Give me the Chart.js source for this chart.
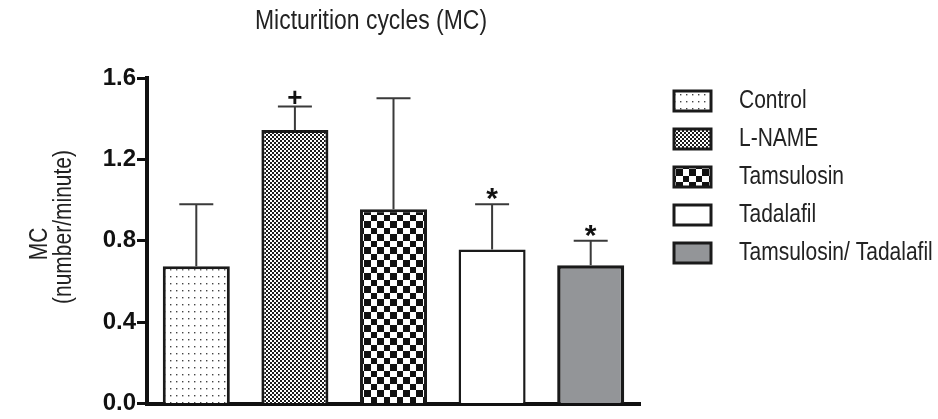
<!DOCTYPE html>
<html>
<head>
<meta charset="utf-8">
<script src="https://cdn.jsdelivr.net/npm/chart.js@4.4.0/dist/chart.umd.min.js"></script>
<style>
  html, body { margin: 0; background: #fff; }
  #contenedor { width: 938px; height: 419px; }
</style>
</head>
<body>
<div id="contenedor"><canvas id="grafico"></canvas></div>
<script>
// Datos
const grupos = ["Control", "L-NAME", "Tamsulosin", "Tadalafil", "Tamsulosin/ Tadalafil"];
const medias = [0.675, 1.345, 0.955, 0.757, 0.68];
const errores = [0.305, 0.115, 0.545, 0.223, 0.12];
const marcas = ["", "+", "", "*", "*"];
const ticksY = [0, 0.4, 0.8, 1.2, 1.6];

const fuente = "'Liberation Sans', Arial, sans-serif";
const canvas = document.getElementById("grafico");
const ctxMain = canvas.getContext("2d");

// Patrones de relleno
function patron(tipo) {
  const c = document.createElement("canvas");
  const g = c.getContext("2d");
  if (tipo === "puntos") {
    c.width = 6; c.height = 7;
    g.fillStyle = "#fff"; g.fillRect(0, 0, 6, 7);
    g.fillStyle = "#444"; g.fillRect(2, 3, 1.4, 1.4);
  } else if (tipo === "fino") {
    c.width = 4; c.height = 4;
    g.fillStyle = "#fff"; g.fillRect(0, 0, 4, 4);
    g.fillStyle = "#1c1c1c"; g.fillRect(0, 0, 2, 2); g.fillRect(2, 2, 2, 2);
  } else if (tipo === "grueso") {
    c.width = 13; c.height = 13;
    g.fillStyle = "#fff"; g.fillRect(0, 0, 13, 13);
    g.fillStyle = "#111"; g.fillRect(0, 0, 7, 7); g.fillRect(7, 7, 6, 6);
  }
  return ctxMain.createPattern(c, "repeat");
}

const rellenos = [patron("puntos"), patron("fino"), patron("grueso"), "#ffffff", "#939598"];
const bordes = [3, 3, 3, 2.5, 3.5];

// texto estrecho (la fuente condensada no existe, se comprime en x)
function texto(c, t, x, y, size, align, escala) {
  c.save();
  c.translate(x, y);
  c.scale(escala, 1);
  c.font = size + "px " + fuente;
  c.textAlign = align;
  c.textBaseline = "middle";
  c.fillText(t, 0, 0);
  c.restore();
}

// Barras de error y marcas de significancia
const pluginErrores = {
  id: "errores",
  afterDatasetsDraw(chart) {
    const c = chart.ctx;
    const y = chart.scales.y;
    const meta = chart.getDatasetMeta(0);
    meta.data.forEach((barra, i) => {
      const yTop = y.getPixelForValue(medias[i] + errores[i]);
      c.save();
      c.strokeStyle = "#3a3a3a";
      c.lineWidth = 2;
      c.beginPath();
      c.moveTo(barra.x, barra.y);
      c.lineTo(barra.x, yTop);
      c.moveTo(barra.x - 17, yTop);
      c.lineTo(barra.x + 17, yTop);
      c.stroke();
      if (marcas[i]) {
        c.fillStyle = "#111";
        c.font = "bold " + (marcas[i] === "*" ? 30 : 26) + "px " + fuente;
        c.textAlign = "center";
        c.textBaseline = "alphabetic";
        const m = c.measureText(marcas[i]);
        const gap = marcas[i] === "*" ? 4 : 2;
        c.fillText(marcas[i], barra.x, yTop - gap - m.actualBoundingBoxDescent);
      }
      c.restore();
    });
  }
};

// Titulo, titulo del eje y leyenda
const pluginTextos = {
  id: "textos",
  afterDraw(chart) {
    const c = chart.ctx;
    c.save();
    c.fillStyle = "#222";
    texto(c, "Micturition cycles (MC)", 371, 22, 27, "center", 0.85);

    c.save();
    c.translate(40, 244);
    c.rotate(-Math.PI / 2);
    texto(c, "MC", 0, 0, 25, "center", 0.84);
    c.restore();
    c.save();
    c.translate(64, 227);
    c.rotate(-Math.PI / 2);
    texto(c, "(number/minute)", 0, 0, 25, "center", 0.84);
    c.restore();

    grupos.forEach((g, i) => {
      const cy = 101 + i * 38;
      c.fillStyle = rellenos[i];
      c.fillRect(674, cy - 10, 37, 20);
      c.strokeStyle = "#1a1a1a";
      c.lineWidth = 3;
      c.strokeRect(674, cy - 10, 37, 20);
      c.fillStyle = "#222";
      texto(c, g, 739, cy, 25, "left", 0.84);
    });
    c.restore();
  }
};

new Chart(canvas, {
  type: "bar",
  data: {
    labels: grupos,
    datasets: [{
      data: medias,
      backgroundColor: rellenos,
      borderColor: "#1a1a1a",
      borderWidth: bordes,
      barPercentage: 0.68,
      categoryPercentage: 1
    }]
  },
  options: {
    responsive: true,
    maintainAspectRatio: false,
    animation: false,
    layout: { padding: { left: 96, right: 298, top: 78, bottom: 11 } },
    plugins: { legend: { display: false }, tooltip: { enabled: false }, title: { display: false } },
    scales: {
      x: {
        grid: { display: false },
        ticks: { display: false },
        border: { color: "#111", width: 4 },
        afterFit: (s) => { s.height = 0; }
      },
      y: {
        min: 0,
        max: 1.6,
        afterBuildTicks: (s) => { s.ticks = ticksY.map(v => ({ value: v })); },
        afterFit: (s) => { s.width = 51; },
        grid: { drawOnChartArea: false, tickLength: 10, tickWidth: 3, tickColor: "#111" },
        border: { color: "#111", width: 4 },
        ticks: {
          padding: 1,
          color: "#111",
          font: { family: fuente, size: 24, weight: "bold" },
          callback: (v) => Number(v).toFixed(1)
        }
      }
    }
  },
  plugins: [pluginErrores, pluginTextos]
});
</script>
</body>
</html>
